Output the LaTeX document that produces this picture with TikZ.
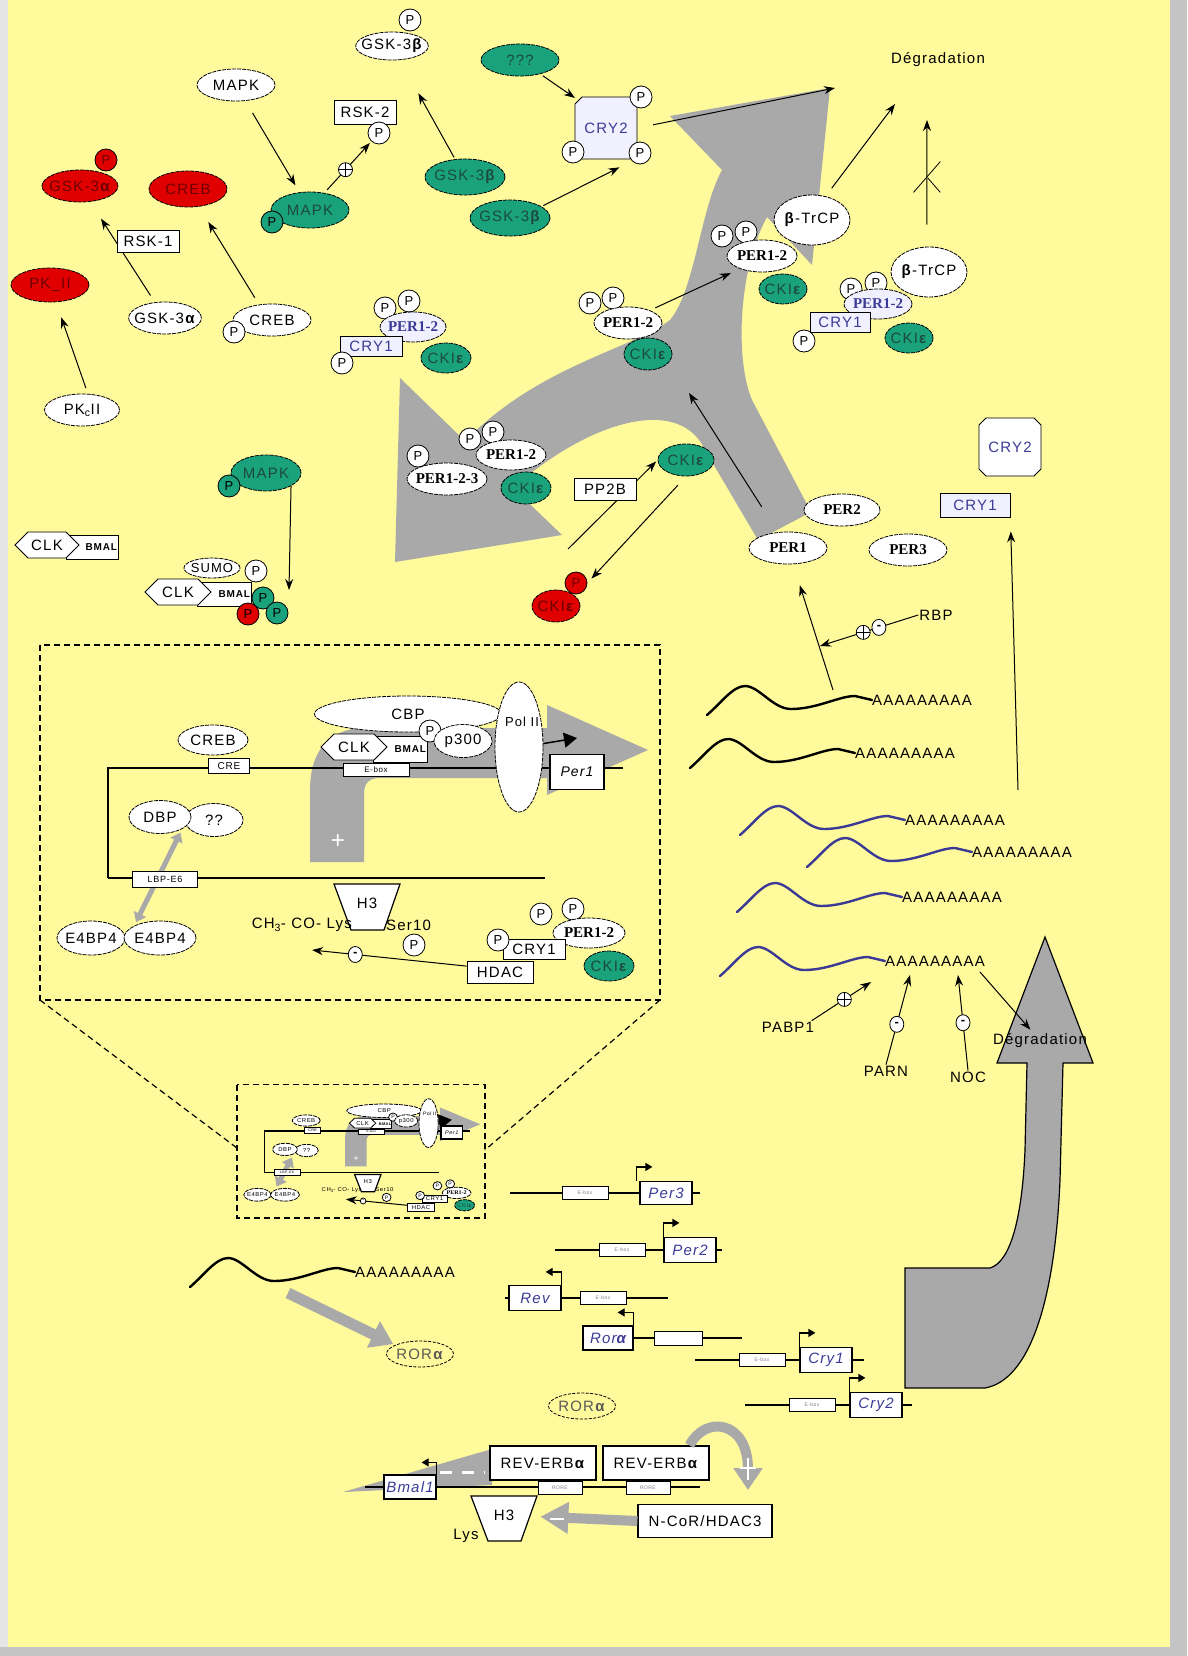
\documentclass[tikz,border=0pt]{standalone}
\usepackage{fontspec}
\setmainfont{Liberation Sans}[LetterSpace=8]
\newfontfamily\perfont{Liberation Serif}
\usepackage{xcolor}
\definecolor{dnnen}{HTML}{FFFA9C}
\definecolor{dnla}{HTML}{19A27C}
\definecolor{dnchula}{HTML}{1D4A40}
\definecolor{dnmaudo}{HTML}{E00000}
\definecolor{dnchudo}{HTML}{6E0000}
\definecolor{dnxam}{HTML}{A9A9A9}
\definecolor{dnlam}{HTML}{3B3B96}
\definecolor{dntim}{HTML}{F0F0FF}
\definecolor{dnvien}{HTML}{C4C4C4}
\def\maunen{dnnen}
\def\mauxanh{dnla}
\def\mauchuxanh{dnchula}
\def\maudo{dnmaudo}
\def\mauchudo{dnchudo}
\def\mauxam{dnxam}
\def\maulam{dnlam}
\def\mautim{dntim}
\usepackage{tikz}
\usetikzlibrary{arrows.meta,shapes.geometric,shapes.misc,shapes.symbols}
% mRNA: #1 ten, #2 dau chuoi A, #3 mau
\def\arnm#1#2#3{%
	\begin{scope}[shift={(#2)}]
		\draw[#3,line width=2.4pt,line cap=round] ({-la},15) .. controls ({-la+14},3) and ({-la+26},-14) .. ({-la+38},-14)
		.. controls ({-la+52},-14) and ({-la+66},9) .. ({-la+84},9)
		.. controls ({-la+110},9) and ({-la+132},-4) .. ({-la+148},-4) -- (0,0);
		\node[polyastyle] (#1) at (0,0) {AAAAAAAAA};
	\end{scope}}
% vung phong to quanh Per1
\def\khungchitiet{%
	\draw[dashstyle] (40,645) rectangle (660,1000);
	\path[fill=\mauxam] (310,862) -- (310,790) .. controls (310,750) and (330,728) .. (365,728) -- (547,728) -- (547,705)
	-- (648,750) -- (547,795) -- (547,778) -- (380,778) .. controls (369,778) and (364,783) .. (364,794) -- (364,862) -- cycle;
	\node[text=white,font=\fontsize{24}{24}\selectfont] (cong) at (338,842) {+};
	\draw[line width=1.2pt] (108,878) -- (108,768) -- (623,768);
	\draw[line width=1.2pt] (108,878) -- (545,878);
	\node[protstyle,minimum width=70,minimum height=30] (crebd) at (213,740) {CREB};
	\node[boxstyle,minimum width=41,minimum height=15,inner sep=0pt,font=\fontsize{10}{10}\selectfont] (cre) at (229,766) {CRE};
	\node[protstyle,minimum width=187,minimum height=36] (cbp) at (408,714) {CBP};
	\node[boxstyle,minimum height=26,text width=52,align=right,font=\bfseries\fontsize{10}{10}\selectfont] (bmald) at (400,749) {BMAL};
	\node[clkstyle] (clkd) at (354,747) {CLK};
	\node[boxstyle,minimum width=66,minimum height=13,inner sep=0pt,font=\fontsize{8}{8}\selectfont] (eboxd) at (376,770) {E-box};
	\node[phosstyle] (pd) at (430,731) {P};
	\node[protstyle,minimum width=58,minimum height=33] (p300) at (463,741) {p300};
	\node[protstyle,minimum width=48,minimum height=130] (polii) at (519,747) {};
	\node[textstyle,font=\fontsize{13}{15}\selectfont] (poltxt) at (522,722) {Pol II};
	\coordinate (promq) at (577,738);
	\draw[-{Triangle[length=13pt,width=15pt]},line width=1.5pt] (polii.8) -- (promq);
	\node[boxstyle,minimum width=54,minimum height=35,line width=1.2pt,font=\itshape\fontsize{14}{16}\selectfont] (per1d) at (577,772) {Per1};
	\node[protstyle,minimum width=58,minimum height=33] (hoi) at (214,820) {??};
	\node[protstyle,minimum width=62,minimum height=33] (dbp) at (160,817) {DBP};
	\node[protstyle,minimum width=68,minimum height=34] (e4a) at (91,938) {E4BP4};
	\node[protstyle,minimum width=72,minimum height=34] (e4b) at (160,938) {E4BP4};
	\draw[{Triangle[length=9pt,width=13pt]}-{Triangle[length=9pt,width=13pt]},line width=5pt,draw=\mauxam,shorten <=4pt,shorten >=4pt] (e4b.north west) -- (dbp.south east);
	\node[boxstyle,minimum width=65,minimum height=16,inner sep=0pt,font=\fontsize{9}{9}\selectfont] (lbp) at (165,879) {LBP-E6};
	\draw[fill=white,line width=1.2pt] (334,884) -- (400,884) -- (384,930) -- (351,930) -- cycle;
	\node[textstyle] (h3d) at (367,903) {H3};
	\node[textstyle,anchor=east] (lysd) at (353,925) {CH\textsubscript{3}- CO- Lys};
	\node[textstyle,anchor=west] (serd) at (385,925) {Ser10};
	\node[phosstyle] (pser) at (414,945) {P};
	\node[phosstyle] (pf1) at (541,914) {P};
	\node[phosstyle] (pf2) at (573,909) {P};
	\node[perstyle,minimum width=72,minimum height=30] (perf) at (589,933) {PER1-2};
	\node[boxstyle,minimum width=62,minimum height=20] (cryf) at (534,949) {CRY1};
	\node[phosstyle] (pf3) at (498,940) {P};
	\node[boxstyle,minimum width=66,minimum height=22] (hdac) at (500,972) {HDAC};
	\node[vertstyle,minimum width=50,minimum height=30] (ckif2) at (609,966) {CKI\textbf{ε}};
	\coordinate (lysq) at (312,950);
	\draw[linestyle] (hdac.170) -- (lysq) node[minusstyle,pos=.72] (trud) {-};
}
\begin{document}
\begin{tikzpicture}[x=1pt,y=-1pt,declare function={la=165;}]
	\tikzstyle{protstyle} = [ellipse,draw,line width=.8pt,dash pattern=on 4pt off 1pt,fill=white,inner xsep=-5pt,inner ysep=0pt,font=\fontsize{15}{17}\selectfont]
	\tikzstyle{vertstyle} = [protstyle,fill=\mauxanh,text=\mauchuxanh]
	\tikzstyle{dostyle} = [protstyle,fill=\maudo,text=\mauchudo]
	\tikzstyle{perstyle} = [protstyle,font=\perfont\bfseries\fontsize{15}{17}\selectfont]
	\tikzstyle{phosstyle} = [circle,draw,line width=.8pt,fill=white,minimum size=22pt,inner sep=0pt,font=\fontsize{13}{15}\selectfont]
	\tikzstyle{boxstyle} = [rectangle,draw,line width=.8pt,fill=white,inner sep=1pt,font=\fontsize{15}{17}\selectfont]
	\tikzstyle{clkstyle} = [signal,signal to=west and east,draw,line width=.8pt,fill=white,minimum width=66,minimum height=26,inner sep=1pt,font=\fontsize{15}{17}\selectfont]
	\tikzstyle{genestyle} = [rectangle,draw,line width=1.2pt,fill=white,minimum width=52,minimum height=25,inner sep=1pt,text=\maulam,font=\itshape\fontsize{15}{17}\selectfont]
	\tikzstyle{eboxstyle} = [rectangle,draw,line width=1pt,fill=white,minimum width=46,minimum height=13,inner sep=0pt,text=gray,font=\fontsize{5}{6}\selectfont]
	\tikzstyle{rorstyle} = [ellipse,draw,line width=.8pt,dash pattern=on 3pt off 1.5pt,text=gray!70!black,inner sep=0pt,minimum width=66,minimum height=26,font=\fontsize{15}{17}\selectfont]
	\tikzstyle{linestyle} = [-{Stealth[length=11pt,width=8pt]},line width=1pt]
	\tikzstyle{promstyle} = [-{Triangle[length=7pt,width=8pt]},line width=1.2pt]
	\tikzstyle{xamstyle} = [-{Triangle[length=22pt,width=28pt]},line width=11pt,draw=\mauxam]
	\tikzstyle{dashstyle} = [line width=1.2pt,dash pattern=on 6pt off 4pt]
	\tikzstyle{plusstyle} = [circle,draw,fill=white,line width=.8pt,minimum size=14pt,inner sep=0pt,
	path picture={\draw[-,shorten <=0pt,shorten >=0pt,line width=.8pt] (path picture bounding box.north) -- (path picture bounding box.south) (path picture bounding box.west) -- (path picture bounding box.east);}]
	\tikzstyle{minusstyle} = [ellipse,draw,fill=white,line width=.8pt,minimum width=14pt,minimum height=16pt,inner sep=0pt,font=\bfseries\fontsize{13}{13}\selectfont]
	\tikzstyle{textstyle} = [inner sep=1pt,font=\fontsize{15}{17}\selectfont]
	\tikzstyle{polyastyle} = [anchor=west,inner sep=0pt,font=\fontsize{15}{17}\selectfont]
	\useasboundingbox (0,0) rectangle (1187,1656);
	\fill[gray!20] (0,0) rectangle (1187,1656);
	\fill[dnvien] (1170,0) rectangle (1187,1656);
	\fill[dnvien] (0,1647) rectangle (1187,1656);
	\fill[\maunen] (8,0) rectangle (1170,1647);
	% mui ten xam lon
	\path[fill=\mauxam] (465,441) -- (400,378) -- (395,562) -- (562,535) -- (513,488)
	.. controls (590,420) and (680,395) .. (705,450) -- (758,540) -- (811,512) -- (752,400)
	.. controls (735,360) and (738,270) .. (767,217) -- (812,265) -- (830,88) -- (670,116) -- (722,170)
	.. controls (700,210) and (695,290) .. (670,320) .. controls (630,350) and (540,365) .. (465,441) -- cycle;
	\path[fill=\mauxam,draw,line width=1.2pt] (1045,937) -- (1093,1063) -- (1063,1063) -- (1060,1180)
	.. controls (1055,1300) and (1030,1380) .. (985,1388) -- (905,1388) -- (905,1268) -- (990,1268)
	.. controls (1010,1262) and (1022,1220) .. (1025,1150) -- (1027,1063) -- (997,1063) -- cycle;
	% goc trai tren
	\node[protstyle,minimum width=72,minimum height=28] (gskb) at (392,46) {GSK-3\textbf{β}};
	\node[phosstyle] (gskbp) at (410,20) {P};
	\node[vertstyle,minimum width=78,minimum height=32] (inconnu) at (520,60) {???};
	\node[textstyle] (degA) at (938,60) {Dégradation};
	\node[protstyle,minimum width=78,minimum height=32] (mapk) at (236,85) {MAPK};
	\node[boxstyle,minimum width=62,minimum height=24] (rsk2) at (365,112) {RSK-2};
	\node[phosstyle] (rsk2p) at (379,133) {P};
	\node[vertstyle,minimum width=78,minimum height=36] (mapkx) at (310,210) {MAPK};
	\node[phosstyle,fill=\mauxanh] (mapkxp) at (272,222) {P};
	\node[vertstyle,minimum width=80,minimum height=36] (gskx1) at (465,177) {GSK-3\textbf{β}};
	\node[vertstyle,minimum width=80,minimum height=36] (gskx2) at (510,218) {GSK-3\textbf{β}};
	\draw[linestyle,shorten <=14pt,shorten >=8pt] (mapk) -- (mapkx);
	\draw[linestyle,shorten <=2pt,shorten >=38pt] (gskx1) -- (gskb);
	\draw[linestyle,shorten <=4pt,shorten >=2pt] (mapkx.50) -- (rsk2p) node[plusstyle,pos=.45] (congA) {};
	\node[dostyle,minimum width=76,minimum height=32] (gskado) at (80,186) {GSK-3\textbf{α}};
	\node[phosstyle,fill=\maudo,text=\mauchudo] (gskadop) at (106,160) {P};
	\node[dostyle,minimum width=78,minimum height=36] (crebdo) at (188,189) {CREB};
	\node[dostyle,minimum width=78,minimum height=34] (pkdo) at (50,285) {PK\_II};
	\node[protstyle,minimum width=72,minimum height=32] (gska) at (165,318) {GSK-3\textbf{α}};
	\node[protstyle,minimum width=78,minimum height=32] (creb) at (272,320) {CREB};
	\node[phosstyle] (crebp) at (234,332) {P};
	\node[protstyle,minimum width=75,minimum height=32] (pkc) at (82,410) {PK\textsubscript{c}II};
	\draw[linestyle,shorten <=8pt,shorten >=20pt] (gska) -- (gskado);
	\draw[linestyle,shorten <=8pt,shorten >=18pt] (creb.130) -- (crebdo);
	\draw[linestyle,shorten <=6pt,shorten >=16pt] (pkc.70) -- (pkdo);
	\node[boxstyle,minimum width=62,minimum height=22] (rsk1) at (148,241) {RSK-1};
	% phuc hop CRY1 giua
	\node[phosstyle] (pa1) at (385,308) {P};
	\node[phosstyle] (pa2) at (409,301) {P};
	\node[perstyle,fill=\mautim,text=\maulam,minimum width=66,minimum height=30] (pera) at (413,327) {PER1-2};
	\node[boxstyle,fill=\mautim,text=\maulam,minimum width=62,minimum height=20] (crya) at (371,346) {CRY1};
	\node[phosstyle] (pa3) at (342,363) {P};
	\node[vertstyle,minimum width=50,minimum height=30] (ckia) at (446,358) {CKI\textbf{ε}};
	% CRY2 va phan huy
	\node[chamfered rectangle,draw,line width=.8pt,fill=\mautim,text=\maulam,minimum width=62,minimum height=62,font=\fontsize{15}{17}\selectfont] (cry2a) at (606,128) {CRY2};
	\node[phosstyle] (cp1) at (641,97) {P};
	\node[phosstyle] (cp2) at (573,152) {P};
	\node[phosstyle] (cp3) at (640,153) {P};
	\draw[linestyle,shorten <=3pt,shorten >=4pt] (inconnu) -- (cry2a.north west);
	\draw[linestyle,shorten <=2pt,shorten >=14pt] (gskx2.20) -- (cp3.south west);
	\coordinate (degq1) at (835,88);
	\draw[linestyle,shorten <=16pt] (cry2a.east) -- (degq1);
	\node[protstyle,minimum width=76,minimum height=50] (btrcp1) at (812,220) {\textbf{β}-TrCP};
	\node[phosstyle] (pb1) at (722,236) {P};
	\node[phosstyle] (pb2) at (746,232) {P};
	\node[perstyle,minimum width=70,minimum height=32] (perb) at (762,256) {PER1-2};
	\node[vertstyle,minimum width=48,minimum height=30] (ckib) at (783,289) {CKI\textbf{ε}};
	\node[protstyle,minimum width=76,minimum height=50] (btrcp2) at (929,272) {\textbf{β}-TrCP};
	\node[phosstyle] (pc1) at (851,289) {P};
	\node[phosstyle] (pc2) at (876,283) {P};
	\node[perstyle,fill=\mautim,text=\maulam,minimum width=68,minimum height=30] (perc) at (878,304) {PER1-2};
	\node[boxstyle,fill=\mautim,text=\maulam,minimum width=60,minimum height=20] (cryc) at (840,322) {CRY1};
	\node[phosstyle] (pc3) at (804,341) {P};
	\node[vertstyle,minimum width=48,minimum height=30] (ckic) at (909,338) {CKI\textbf{ε}};
	\coordinate (degq2) at (895,104);
	\draw[linestyle,shorten <=10pt] (btrcp1.60) -- (degq2);
	\coordinate (degq3) at (927,120);
	\draw[linestyle,shorten <=22pt] (btrcp2.95) -- (degq3) node[cross out,draw,line width=.8pt,minimum width=26pt,minimum height=30pt,pos=.55] (chan) {};
	\node[phosstyle] (pd1) at (590,303) {P};
	\node[phosstyle] (pd2) at (613,298) {P};
	\node[perstyle,minimum width=68,minimum height=32] (perd) at (628,323) {PER1-2};
	\node[vertstyle,minimum width=48,minimum height=32] (ckid) at (648,354) {CKI\textbf{ε}};
	\draw[linestyle,shorten <=6pt,shorten >=10pt] (perd.30) -- (perb.210);
	% phuc hop PER1-2-3
	\node[phosstyle] (pe1) at (418,456) {P};
	\node[phosstyle] (pe2) at (470,439) {P};
	\node[phosstyle] (pe3) at (493,432) {P};
	\node[perstyle,minimum width=70,minimum height=30] (pere1) at (511,455) {PER1-2};
	\node[perstyle,minimum width=80,minimum height=32] (pere2) at (447,479) {PER1-2-3};
	\node[vertstyle,minimum width=50,minimum height=32] (ckie) at (526,488) {CKI\textbf{ε}};
	\node[vertstyle,minimum width=56,minimum height=32] (ckif) at (686,460) {CKI\textbf{ε}};
	\coordinate (pp2bq) at (568,549);
	\draw[linestyle,shorten >=2pt] (pp2bq) -- (ckif.west);
	\node[boxstyle,minimum width=62,minimum height=22] (pp2b) at (605,489) {PP2B};
	\node[dostyle,minimum width=48,minimum height=32] (ckido) at (556,606) {CKI\textbf{ε}};
	\node[phosstyle,fill=\maudo,text=\mauchudo] (ckidop) at (576,583) {P};
	\draw[linestyle,shorten <=12pt,shorten >=6pt] (ckif.south) -- (ckidop.east);
	% CLK / BMAL
	\node[boxstyle,minimum height=24,text width=50,align=right,font=\bfseries\fontsize{10}{10}\selectfont] (bmalA) at (92,547) {BMAL};
	\node[clkstyle,minimum width=64] (clkA) at (47,545) {CLK};
	\node[vertstyle,minimum width=70,minimum height=36] (mapky) at (266,473) {MAPK};
	\node[phosstyle,fill=\mauxanh] (mapkyp) at (229,486) {P};
	\node[protstyle,minimum width=56,minimum height=20,font=\fontsize{13}{14}\selectfont] (sumo) at (212,568) {SUMO};
	\node[phosstyle] (psumo) at (256,571) {P};
	\node[boxstyle,minimum height=24,text width=52,align=right,font=\bfseries\fontsize{10}{10}\selectfont] (bmalB) at (224,594) {BMAL};
	\node[clkstyle] (clkB) at (178,592) {CLK};
	\node[phosstyle,fill=\mauxanh] (pg1) at (263,598) {P};
	\node[phosstyle,fill=\maudo] (pr1) at (248,614) {P};
	\node[phosstyle,fill=\mauxanh] (pg2) at (277,613) {P};
	\coordinate (mapkq) at (289,590);
	\draw[linestyle] (mapky.south east) -- (mapkq);
	% PER, CRY ben phai
	\node[chamfered rectangle,draw,line width=.8pt,fill=white,text=\maulam,minimum width=62,minimum height=58,font=\fontsize{15}{17}\selectfont] (cry2b) at (1010,447) {CRY2};
	\node[boxstyle,fill=\mautim,text=\maulam,minimum width=70,minimum height=24] (cry1b) at (975,505) {CRY1};
	\node[perstyle,minimum width=76,minimum height=32] (per2) at (842,510) {PER2};
	\node[perstyle,minimum width=78,minimum height=32] (per1) at (788,548) {PER1};
	\node[perstyle,minimum width=78,minimum height=32] (per3) at (908,550) {PER3};
	\coordinate (jonction) at (689,393);
	\draw[linestyle,shorten <=30pt] (per1) -- (jonction);
	\coordinate (cry1q) at (1018,790);
	\draw[linestyle,shorten >=14pt] (cry1q) -- (cry1b.south east);
	% ARNm
	\arnm{arn1}{872,700}{black}
	\arnm{arn2}{855,753}{black}
	\arnm{arn3}{905,820}{\maulam}
	\arnm{arn4}{972,852}{\maulam}
	\arnm{arn5}{902,897}{\maulam}
	\arnm{arn6}{885,961}{\maulam}
	\arnm{arn7}{355,1272}{black}
	\coordinate (arnq) at (833,690);
	\draw[linestyle,shorten >=22pt] (arnq) -- (per1);
	\node[textstyle] (rbp) at (936,615) {RBP};
	\coordinate (rbpq) at (820,646);
	\draw[linestyle] (rbp.west) -- (rbpq) node[minusstyle,pos=.4] (truA) {-} node[plusstyle,pos=.56] (congB) {};
	\node[textstyle] (pabp) at (788,1027) {PABP1};
	\coordinate (pabpq) at (871,982);
	\draw[linestyle] (pabp.15) -- (pabpq) node[plusstyle,pos=.55] (congC) {};
	\node[textstyle] (parn) at (886,1071) {PARN};
	\coordinate (parnq) at (910,975);
	\draw[linestyle] (parn.north) -- (parnq) node[minusstyle,pos=.45] (truB) {-};
	\node[textstyle] (noc) at (968,1077) {NOC};
	\coordinate (nocq) at (958,975);
	\draw[linestyle] (noc.north) -- (nocq) node[minusstyle,pos=.5] (truC) {-};
	\node[textstyle] (degB) at (1040,1041) {Dégradation};
	\coordinate (degq4) at (980,972);
	\draw[linestyle,shorten >=4pt] (degq4) -- (degB.130);
	% vung phong to va ban thu nho
	\khungchitiet
	\begin{scope}[shift={(221,843)},xscale=.4,yscale=.375,transform shape,name prefix=mini-]
		\khungchitiet
	\end{scope}
	\coordinate (gocA) at (40,1000);
	\coordinate (gocB) at (660,1000);
	\coordinate (nhoA) at (237,1148);
	\coordinate (nhoB) at (485,1150);
	\draw[dashstyle] (gocA) -- (nhoA) (gocB) -- (nhoB);
	% cac gen
	\draw[line width=1.2pt] (510,1193) -- (700,1193);
	\node[eboxstyle] (eper3) at (585,1193) {E-box};
	\node[genestyle,minimum height=23] (per3g) at (666,1193) {Per3};
	\draw[promstyle] ([xshift=-3pt]per3g.north west) -- ++(0,-14) -- ++(16,0);
	\draw[line width=1.2pt] (555,1250) -- (722,1250);
	\node[eboxstyle] (eper2) at (622,1250) {E-box};
	\node[genestyle] (per2g) at (690,1250) {Per2};
	\draw[promstyle] (per2g.north west) -- ++(0,-14) -- ++(16,0);
	\draw[line width=1.2pt] (505,1298) -- (668,1298);
	\node[genestyle] (revg) at (535,1298) {Rev};
	\node[eboxstyle] (erev) at (603,1298) {E-box};
	\draw[promstyle] (revg.north east) -- ++(0,-13) -- ++(-16,0);
	\draw[line width=1.2pt] (583,1338) -- (742,1338);
	\node[genestyle,minimum width=50,minimum height=24] (rorg) at (608,1338) {Ror\textbf{α}};
	\node[eboxstyle,minimum width=48,minimum height=14] (eror) at (678,1338) {};
	\draw[promstyle] (rorg.north east) -- ++(0,-13) -- ++(-16,0);
	\draw[line width=1.2pt] (695,1360) -- (864,1360);
	\node[eboxstyle] (ecry1) at (762,1360) {E-box};
	\node[genestyle] (cry1g) at (826,1360) {Cry1};
	\draw[promstyle] (cry1g.north west) -- ++(0,-14) -- ++(16,0);
	\draw[line width=1.2pt] (745,1405) -- (912,1405);
	\node[eboxstyle] (ecry2) at (812,1405) {E-box};
	\node[genestyle] (cry2g) at (876,1405) {Cry2};
	\draw[promstyle] (cry2g.north west) -- ++(0,-14) -- ++(16,0);
	% ROR alpha va Bmal1
	\node[rorstyle] (rora1) at (420,1354) {ROR\textbf{α}};
	\node[rorstyle] (rora2) at (582,1406) {ROR\textbf{α}};
	\coordinate (arnq7) at (288,1293);
	\draw[xamstyle,shorten >=2pt] (arnq7) -- (rora1.160);
	\path[fill=\mauxam] (343,1492) -- (492,1449) -- (492,1485) -- cycle;
	\draw[white,line width=3pt,dash pattern=on 12pt off 10pt] (440,1472) -- (485,1472);
	\draw[line width=1.2pt] (365,1487) -- (700,1487);
	\node[genestyle,minimum width=52,minimum height=24] (bmalg) at (410,1487) {Bmal1};
	\draw[promstyle] (bmalg.north east) -- ++(0,-12) -- ++(-15,0);
	\node[boxstyle,line width=1.2pt,minimum width=106,minimum height=34] (reverb1) at (543,1463) {REV-ERB\textbf{α}};
	\node[boxstyle,line width=1.2pt,minimum width=106,minimum height=34] (reverb2) at (656,1463) {REV-ERB\textbf{α}};
	\node[eboxstyle,minimum width=44] (rore1) at (560,1488) {RORE};
	\node[eboxstyle,minimum width=44] (rore2) at (648,1488) {RORE};
	\draw[fill=white,line width=1.2pt] (471,1496) -- (537,1496) -- (521,1541) -- (488,1541) -- cycle;
	\node[textstyle] (h3b) at (504,1515) {H3};
	\node[textstyle] (lysb) at (466,1536) {Lys};
	\node[boxstyle,line width=1.2pt,minimum width=134,minimum height=33] (ncor) at (705,1521) {N-CoR/HDAC3};
	\draw[-{Triangle[length=28pt,width=30pt]},line width=10pt,draw=\mauxam,shorten >=25pt] (ncor.west) -- (h3b);
	\draw[white,line width=2pt] (550,1519) -- (564,1519);
	\coordinate (congq) at (748,1490);
	\draw[-{Triangle[length=22pt,width=28pt]},line width=10pt,draw=\mauxam] ([xshift=-20pt]reverb2.north east) .. controls (705,1415) and (748,1420) .. (congq);
	\draw[white,line width=1.5pt] (740,1468) -- (756,1468) (748,1458) -- (748,1480);
\end{tikzpicture}
\end{document}
